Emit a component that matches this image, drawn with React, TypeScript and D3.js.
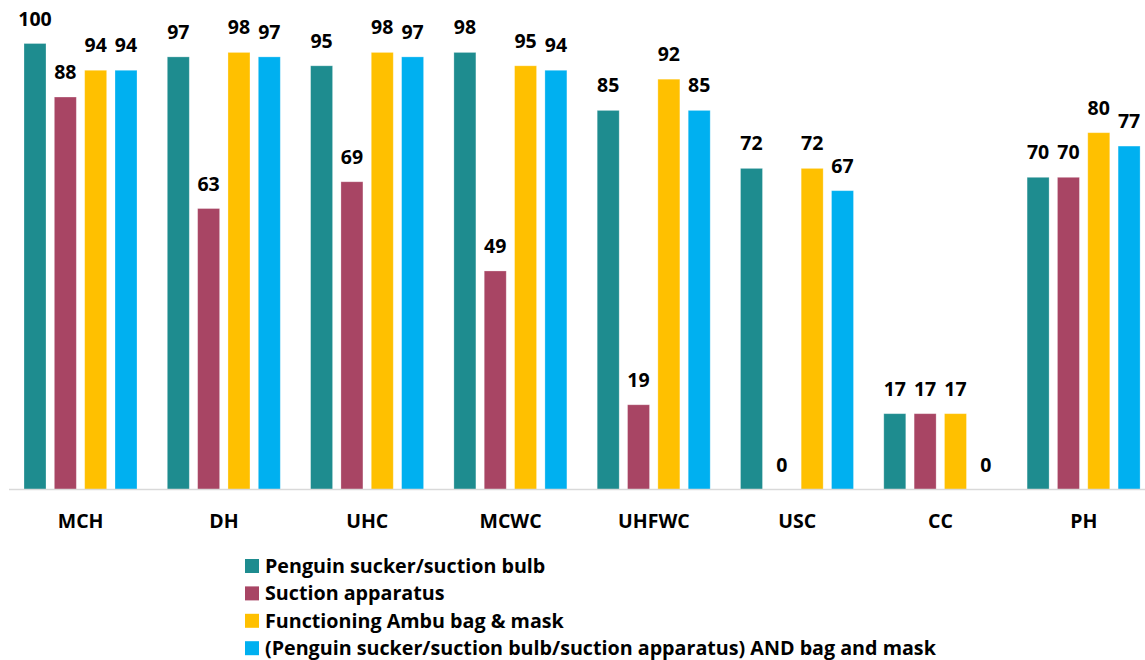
import React from "react";
import * as d3 from "d3";

// Facility types along the x axis
const categories = ["MCH", "DH", "UHC", "MCWC", "UHFWC", "USC", "CC", "PH"];

// Series names (legend) and their values per facility type (%)
const seriesNames = [
  "Penguin sucker/suction bulb",
  "Suction apparatus",
  "Functioning Ambu bag & mask",
  "(Penguin sucker/suction bulb/suction apparatus) AND bag and mask",
];
const penguinSucker = [100, 97, 95, 98, 85, 72, 17, 70];
const suctionApparatus = [88, 63, 69, 49, 19, 0, 17, 70];
const ambuBag = [94, 98, 98, 95, 92, 72, 17, 80];
const combined = [94, 97, 97, 94, 85, 67, 0, 77];

const seriesValues = [penguinSucker, suctionApparatus, ambuBag, combined];
const colors = ["#1E8C8F", "#A84564", "#FFC000", "#00B0F0"];

const W = 1145;
const H = 660;
const FONT = "'Open Sans', sans-serif";

export default function App() {
  const groupStep = 143.3;
  const x0 = d3
    .scaleBand<string>()
    .domain(categories)
    .range([9, 9 + groupStep * categories.length])
    .padding(0);
  const x1 = d3
    .scaleBand<string>()
    .domain(seriesNames)
    .range([15, 128])
    .paddingInner(0.275)
    .paddingOuter(0);
  const y = d3.scaleLinear().domain([0, 100]).range([489.5, 43.5]);

  return (
    <svg
      width={W}
      height={H}
      style={{ position: "absolute", left: 0, top: 0, background: "#fff" }}
      fontFamily={FONT}
    >
      {categories.map((cat, ci) => {
        const gx = x0(cat)!;
        return (
          <g key={cat} transform={`translate(${gx},0)`}>
            {seriesNames.map((s, si) => {
              const v = seriesValues[si][ci];
              const bx = x1(s)!;
              const bw = x1.bandwidth();
              return (
                <g key={s}>
                  {v > 0 && (
                    <rect
                      x={bx}
                      y={y(v)}
                      width={bw}
                      height={y(0) - y(v)}
                      fill={colors[si]}
                      stroke="#ffffff"
                      strokeOpacity={0.35}
                      strokeWidth={0.8}
                    />
                  )}
                  <text
                    x={bx + bw / 2}
                    y={y(v) - 18}
                    textAnchor="middle"
                    fontSize={19.5}
                    fontWeight={700}
                    fill="#000"
                  >
                    {v}
                  </text>
                </g>
              );
            })}
            <text
              x={x0.bandwidth() / 2}
              y={528}
              textAnchor="middle"
              fontSize={19.5}
              fontWeight={700}
              fill="#000"
            >
              {cat}
            </text>
          </g>
        );
      })}
      <line x1={9} x2={W} y1={y(0)} y2={y(0)} stroke="#D9D9D9" strokeWidth={1.5} />
      {seriesNames.map((s, si) => {
        const top = 559 + si * 27.4;
        return (
          <g key={s}>
            <rect x={245} y={top} width={14} height={14} fill={colors[si]} />
            <text x={265} y={top + 14} fontSize={19.7} fontWeight={700} fill="#000">
              {s}
            </text>
          </g>
        );
      })}
    </svg>
  );
}
